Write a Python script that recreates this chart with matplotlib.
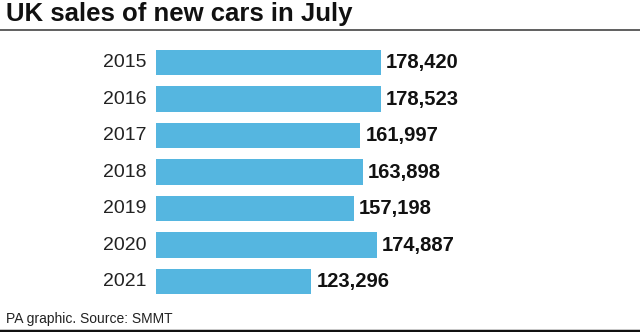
import matplotlib.pyplot as plt
from matplotlib.lines import Line2D

years = ['2015', '2016', '2017', '2018', '2019', '2020', '2021']
sales = [178420, 178523, 161997, 163898, 157198, 174887, 123296]

W, H = 640, 332
fig = plt.figure(figsize=(W / 100, H / 100), dpi=100)
plt.rcParams['font.family'] = ['Liberation Sans', 'DejaVu Sans']

# axes placed in pixel terms
left, right = 156, 381
top, bottom = 44.25, 299.75
ax = fig.add_axes([left / W, 1 - bottom / H, (right - left) / W, (bottom - top) / H])

pos = list(range(len(years)))
ax.barh(pos, sales, height=0.685, color='#55b6e0')
ax.set_xlim(0, 178420)
ax.set_ylim(len(years) - 0.5, -0.5)
for i, (y, v) in enumerate(zip(years, sales)):
    ax.text(-10 / 225 * 178420, i, y, ha='right', va='center', fontsize=14, color='#222222')
    ax.text(v + 5 / 225 * 178420, i, f'{v:,}', ha='left', va='center', fontsize=14.5,
            fontweight='bold', color='#111111', clip_on=False)
ax.axis('off')

fig.text(6 / W, 1 - 14 / H, 'UK sales of new cars in July', fontsize=18.5, fontweight='bold',
         ha='left', va='center', color='#111111')
fig.add_artist(Line2D([0, 1], [1 - 29.5 / H, 1 - 29.5 / H], color='#444444', lw=1.2))
fig.text(6 / W, 1 - 319 / H, 'PA graphic. Source: SMMT', fontsize=10, ha='left', va='center',
         color='#222222')
fig.add_artist(Line2D([0, 1], [1 - 330.5 / H, 1 - 330.5 / H], color='#111111', lw=2.5))

fig.savefig('out.png', dpi=100)
